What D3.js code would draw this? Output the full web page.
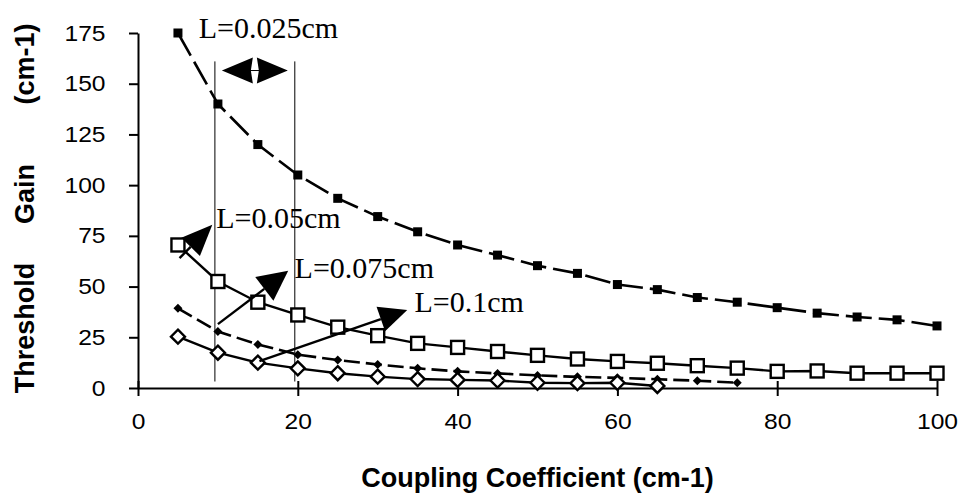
<!DOCTYPE html>
<html>
<head>
<meta charset="utf-8">
<script src="https://cdn.jsdelivr.net/npm/d3@7"></script>
<style>
  html, body { margin: 0; padding: 0; background: #fff; }
  svg { display: block; }
</style>
</head>
<body>
<svg id="chart" width="960" height="498"></svg>
<script>
// Coupling coefficient (cm-1) sampled every 5 units
const coupling = [5,10,15,20,25,30,35,40,45,50,55,60,65,70,75,80,85,90,95,100];

// Threshold gain (cm-1) for each grating length
const gainL025 = [175,140,120,105,93.5,84.5,77,70.5,65.5,60.3,56.5,51,48.5,44.6,42.3,39.6,36.9,35,33.6,30.6];
const gainL050 = [70.5,52.5,42.3,36,30,25.8,22,20,18,16.1,14.3,13.1,12.2,11,9.8,8.2,8.4,7.3,7.3,7.3];
const gainL075 = [39.3,27.8,21.5,16.4,13.8,11.6,9.7,8.2,7.2,6.2,5.5,5,4.3,3.6,2.6];
const gainL100 = [25.3,17.4,12.5,9.7,7.3,5.6,4.4,4,3.7,2.6,2.4,2.6,1];

const xTicks = [0,20,40,60,80,100];
const yTicks = [0,25,50,75,100,125,150,175];

// annotation: the coupling range marked by the two vertical guides
const guideX = [10,20];
const labels = ["L=0.025cm","L=0.05cm","L=0.075cm","L=0.1cm"];

const svg = d3.select("#chart");
const x = d3.scaleLinear().domain([0,100]).range([138,937]);
const y = d3.scaleLinear().domain([0,175]).range([388,33]);

const sans = "'Liberation Sans', Arial, Helvetica, sans-serif";
const serif = "'Liberation Serif', 'Times New Roman', serif";

// ---- axes ----
const yAxis = svg.append("g")
  .attr("transform", `translate(${x(0)},0)`)
  .call(d3.axisLeft(y).tickValues(yTicks).tickSize(9).tickPadding(20).tickSizeOuter(0));
yAxis.select(".domain").attr("stroke","#000").attr("stroke-width",2);
yAxis.selectAll(".tick line").attr("stroke","#000").attr("stroke-width",2);
yAxis.selectAll(".tick text")
  .attr("font-family", sans).attr("font-size", 22).attr("fill","#000")
  .attr("transform","scale(1.12,1)");

const xAxis = svg.append("g")
  .attr("transform", `translate(0,${y(0)})`)
  .call(d3.axisBottom(x).tickValues(xTicks).tickSize(8).tickPadding(17).tickSizeOuter(0));
xAxis.select(".domain").attr("stroke","#000").attr("stroke-width",2);
xAxis.selectAll(".tick line").attr("stroke","#000").attr("stroke-width",2).attr("y1",-7);
xAxis.selectAll(".tick text")
  .attr("font-family", sans).attr("font-size", 22).attr("fill","#000")
  .attr("transform","scale(1.12,1)");

// axis titles
svg.append("text")
  .attr("x", x(50)).attr("y", 487)
  .attr("text-anchor","middle")
  .attr("font-family", sans).attr("font-weight","bold").attr("font-size", 27)
  .text("Coupling Coefficient (cm-1)");

const yTitle = [
  {t:"Threshold", c:328},
  {t:"Gain", c:194},
  {t:"(cm-1)", c:64}
];
svg.selectAll(".ytitle").data(yTitle).join("text")
  .attr("class","ytitle")
  .attr("transform", d => `translate(34,${d.c}) rotate(-90)`)
  .attr("text-anchor","middle")
  .attr("font-family", sans).attr("font-weight","bold").attr("font-size", 27)
  .text(d => d.t);

// ---- guides ----
svg.selectAll(".guide").data(guideX).join("line")
  .attr("class","guide")
  .attr("x1", d => x(d) - 3).attr("x2", d => x(d) - 3)
  .attr("y1", y(161)).attr("y2", y(3.2))
  .attr("stroke","#000").attr("stroke-width",1);

// ---- series ----
const line = d3.line().x(d => x(d[0])).y(d => y(d[1]));
const pts = vals => vals.map((v,i) => [coupling[i], v]);

const s025 = pts(gainL025), s050 = pts(gainL050), s075 = pts(gainL075), s100 = pts(gainL100);

svg.append("path").datum(s025).attr("d", line)
  .attr("fill","none").attr("stroke","#000").attr("stroke-width",2.6)
  .attr("stroke-dasharray","26,7");
svg.append("path").datum(s075).attr("d", line)
  .attr("fill","none").attr("stroke","#000").attr("stroke-width",2.6)
  .attr("stroke-dasharray","16,6");
svg.append("path").datum(s050).attr("d", line)
  .attr("fill","none").attr("stroke","#000").attr("stroke-width",2.4);
svg.append("path").datum(s100).attr("d", line)
  .attr("fill","none").attr("stroke","#000").attr("stroke-width",2.4);

// filled squares
svg.selectAll(".m025").data(s025).join("rect")
  .attr("x", d => x(d[0]) - 4.5).attr("y", d => y(d[1]) - 4.5)
  .attr("width",9).attr("height",9).attr("fill","#000");
// small filled diamonds
svg.selectAll(".m075").data(s075).join("path")
  .attr("transform", d => `translate(${x(d[0])},${y(d[1])})`)
  .attr("d","M0,-4.5L4.5,0L0,4.5L-4.5,0Z").attr("fill","#000");
// open squares
svg.selectAll(".m050").data(s050).join("rect")
  .attr("x", d => x(d[0]) - 6.5).attr("y", d => y(d[1]) - 6.5)
  .attr("width",13).attr("height",13)
  .attr("fill","#fff").attr("stroke","#000").attr("stroke-width",2.4);
// open diamonds
svg.selectAll(".m100").data(s100).join("path")
  .attr("transform", d => `translate(${x(d[0])},${y(d[1])})`)
  .attr("d","M0,-7L7,0L0,7L-7,0Z")
  .attr("fill","#fff").attr("stroke","#000").attr("stroke-width",2.4);

// ---- annotations ----
const annText = [
  {t:labels[0], cx:7.6, cy:172.5},
  {t:labels[1], cx:9.8, cy:79},
  {t:labels[2], cx:19.6, cy:54},
  {t:labels[3], cx:34.6, cy:37.5}
];
svg.selectAll(".ann").data(annText).join("text")
  .attr("class","ann")
  .attr("x", d => x(d.cx)).attr("y", d => y(d.cy))
  .attr("font-family", serif).attr("font-size", 30).attr("fill","#000")
  .text(d => d.t);

// double-headed arrow between the guides
const arrowY = y(156.5);
const xl = x(guideX[0]) - 3, xr = x(guideX[1]) - 3;
const xm = (xl + xr) / 2;
svg.append("line").attr("x1", xl + 8).attr("x2", xr - 8).attr("y1", arrowY).attr("y2", arrowY)
  .attr("stroke","#000").attr("stroke-width",1);
svg.append("path")
  .attr("d", `M${xl+7},${arrowY}L${xm-2},${arrowY-13}L${xm-4},${arrowY}L${xm-2},${arrowY+13}Z`)
  .attr("fill","#000");
svg.append("path")
  .attr("d", `M${xr-7},${arrowY}L${xm+2},${arrowY-13}L${xm+4},${arrowY}L${xm+2},${arrowY+13}Z`)
  .attr("fill","#000");

// pointer arrows from curves to their labels
function pointer(from, tip, len, half) {
  const [x0,y0] = from, [x1,y1] = tip;
  const dx = x1 - x0, dy = y1 - y0, L = Math.hypot(dx,dy);
  const ux = dx / L, uy = dy / L;
  const bx = x1 - ux*len, by = y1 - uy*len;
  svg.append("line").attr("x1",x0).attr("y1",y0).attr("x2",bx).attr("y2",by)
    .attr("stroke","#000").attr("stroke-width",2.4);
  svg.append("path")
    .attr("d", `M${x1},${y1}L${bx - uy*half},${by + ux*half}L${bx + uy*half},${by - ux*half}Z`)
    .attr("fill","#000");
}
pointer([x(5.2), y(64)], [x(9.3), y(80.5)], 31, 13);
pointer([x(10), y(31.5)], [x(18.8), y(57.8)], 30, 15);
pointer([x(15.2), y(13.2)], [x(33.7), y(38.5)], 28, 13);
</script>
</body>
</html>
